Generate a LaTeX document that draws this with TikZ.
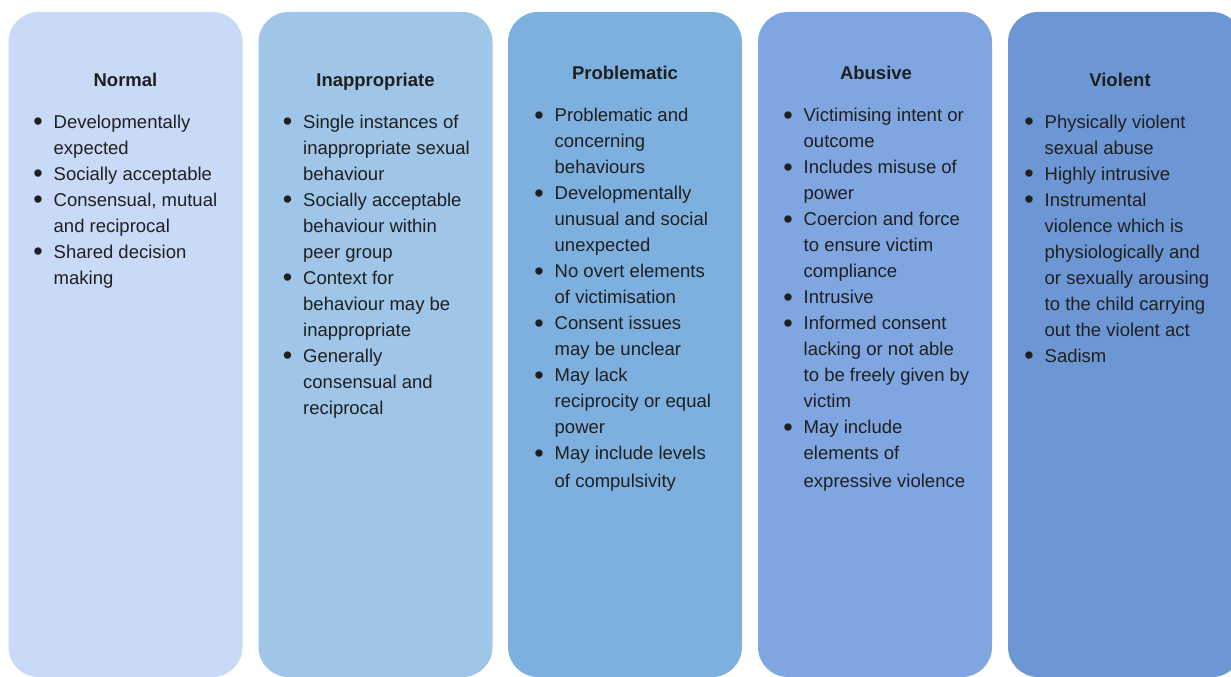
\documentclass[tikz,border=0pt]{standalone}
\usepackage{fontspec}
\setmainfont{Liberation Sans}
\definecolor{normalblue}{HTML}{C9DAF8}
\definecolor{inappblue}{HTML}{9FC5E8}
\definecolor{problblue}{HTML}{7EB0DF}
\definecolor{abuseblue}{HTML}{7FA6E1}
\definecolor{violblue}{HTML}{6D97D4}
\newcommand{\bul}{\makebox[0pt][r]{\raisebox{-2.5pt}{\fontsize{27}{27}\selectfont\textbullet}\hspace{10.8pt}}}
\tikzset{
  column/.style={rounded corners=30pt},
  coltitle/.style={anchor=base, inner sep=0pt, font=\fontsize{18.5}{26}\selectfont\bfseries, text=black!88},
  collist/.style={anchor=north west, align=left, inner sep=0pt, font=\fontsize{18.5}{26}\selectfont, text=black!88},
}

\begin{document}
\begin{tikzpicture}[x=1pt,y=-1pt]
		\useasboundingbox (0,0) rectangle (1231,677);
		%%%%% COLUMNS %%%%%
		\fill[column, normalblue] (8.5, 12) rectangle (242.5, 677);
		\fill[column, inappblue] (258.5, 12) rectangle (492.5, 677);
		\fill[column, problblue] (508, 12) rectangle (742, 677);
		\fill[column, abuseblue] (758, 12) rectangle (992, 677);
		\fill[column, violblue] (1008, 12) rectangle (1242, 677);
		
		%%%%% TITLES %%%%%
		\node[coltitle] (normal) at (125.5, 86) {Normal};
		\node[coltitle] (inappropriate) at (375.5, 86) {Inappropriate};
		\node[coltitle] (problematic) at (625, 79) {Problematic};
		\node[coltitle] (abusive) at (876, 79) {Abusive};
		\node[coltitle] (violent) at (1120, 86) {Violent};
		
		%%%%% LISTS %%%%%
		\node[collist] (normal-list) at (53.5, 109.8) {\strut\bul Developmentally\\
			expected\\
			\bul Socially acceptable\\
			\bul Consensual, mutual\\
			and reciprocal\\
			\bul Shared decision\\
			making};
		
		\node[collist] (inappropriate-list) at (303, 109.8) {\strut\bul Single instances of\\
			inappropriate sexual\\
			behaviour\\
			\bul Socially acceptable\\
			behaviour within\\
			peer group\\
			\bul Context for\\
			behaviour may be\\
			inappropriate\\
			\bul Generally\\
			consensual and\\
			reciprocal};
		
		\node[collist] (problematic-list) at (554.5, 103.3) {\strut\bul Problematic and\\
			concerning\\
			behaviours\\
			\bul Developmentally\\
			unusual and social\\
			unexpected\\
			\bul No overt elements\\
			of victimisation\\
			\bul Consent issues\\
			may be unclear\\
			\bul May lack\\
			reciprocity or equal\\
			power\\
			\bul May include levels\\[2pt]
			of compulsivity};
		
		\node[collist] (abusive-list) at (803.5, 103.3) {\strut\bul Victimising intent or\\
			outcome\\
			\bul Includes misuse of\\
			power\\
			\bul Coercion and force\\
			to ensure victim\\
			compliance\\
			\bul Intrusive\\
			\bul Informed consent\\
			lacking or not able\\
			to be freely given by\\
			victim\\
			\bul May include\\
			elements of\\[2pt]
			expressive violence};
		
		\node[collist] (violent-list) at (1044.5, 109.8) {\strut\bul Physically violent\\
			sexual abuse\\
			\bul Highly intrusive\\
			\bul Instrumental\\
			violence which is\\
			physiologically and\\
			or sexually arousing\\
			to the child carrying\\
			out the violent act\\
			\bul Sadism};
		%%%%% END %%%%%
	\end{tikzpicture}
\end{document}
